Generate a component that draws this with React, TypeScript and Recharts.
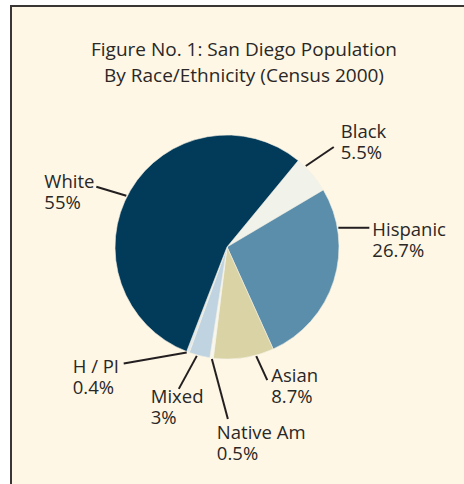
import { PieChart, Pie, Cell } from "recharts";

const groups = ["Black", "Hispanic", "Asian", "Native Am", "Mixed", "H / PI", "White"];
const shares = [5.5, 26.7, 8.7, 0.5, 3, 0.4, 55];
const shareLabels = ["5.5%", "26.7%", "8.7%", "0.5%", "3%", "0.4%", "55%"];
const titleLines = ["Figure No. 1:  San Diego Population", "By Race/Ethnicity (Census 2000)"];

const colors = ["#f1f3ea", "#5b8eab", "#d9d3a5", "#f8f7ef", "#bfd3e0", "#e2e9ec", "#023a5a"];

// leader line: starts on the rim at `angle`, runs (dx, dy); text sits at line end + (tx, ty)
const leaders = [
  { angle: 45.8, dx: 28, dy: -19, tx: 7, ty: -9 },
  { angle: 9.8, dx: 31, dy: 0, tx: 3, ty: 8 },
  { angle: -75, dx: 11, dy: 24, tx: 4, ty: 2 },
  { angle: -97.7, dx: 16, dy: 60, tx: -11, ty: 20 },
  { angle: -105.5, dx: -18, dy: 33, tx: -28, ty: 14 },
  { angle: -110.9, dx: -63, dy: 11, tx: -51, ty: 9 },
  { angle: 153, dx: -30, dy: -9, tx: -52, ty: 1 }
];

const data = groups.map((name, i) => ({ name, value: shares[i] }));

const FONT = "'Open Sans', sans-serif";
const INK = "#2a2727";

const RAD = Math.PI / 180;

function renderLabel(props: any) {
  const { cx, cy, outerRadius, index } = props;
  const l = leaders[index];
  const r = outerRadius + 1;
  const x0 = cx + r * Math.cos(l.angle * RAD);
  const y0 = cy - r * Math.sin(l.angle * RAD);
  const x1 = x0 + l.dx;
  const y1 = y0 + l.dy;
  const tx = x1 + l.tx;
  const ty = y1 + l.ty;
  return (
    <g key={`lbl-${index}`}>
      <line x1={x0} y1={y0} x2={x1} y2={y1} stroke="#231f20" strokeWidth={2} />
      <text x={tx} y={ty} fill={INK} fontFamily={FONT} fontSize={18.5}>
        <tspan x={tx} y={ty}>{groups[index]}</tspan>
        <tspan x={tx} y={ty + 21}>{shareLabels[index]}</tspan>
      </text>
    </g>
  );
}

export default function App() {
  return (
    <div style={{ position: "absolute", left: 0, top: 0, width: 464, height: 484, overflow: "hidden", background: "#fff" }}>
      <div
        style={{
          position: "absolute",
          left: 10,
          top: 5,
          width: 470,
          height: 490,
          borderTop: "2px solid #3a3636",
          borderLeft: "2px solid #3a3636",
          background: "#fef7e5"
        }}
      />
      <svg width={464} height={484} style={{ position: "absolute", left: 0, top: 0 }}>
        {titleLines.map((t, i) => (
          <text key={i} x={244} y={56 + i * 26} textAnchor="middle" fill={INK} fontFamily={FONT} fontSize={19}>
            {t}
          </text>
        ))}
      </svg>
      <div style={{ position: "absolute", left: 0, top: 0 }}>
        <PieChart width={464} height={484}>
          <Pie
            data={data}
            dataKey="value"
            cx={222}
            cy={242}
            outerRadius={112}
            startAngle={50.5}
            endAngle={-309.5}
            stroke="#f3f0e4"
            strokeWidth={0.6}
            label={renderLabel}
            labelLine={false}
            isAnimationActive={false}
          >
            {data.map((d, i) => (
              <Cell key={d.name} fill={colors[i]} />
            ))}
          </Pie>
        </PieChart>
      </div>
    </div>
  );
}
